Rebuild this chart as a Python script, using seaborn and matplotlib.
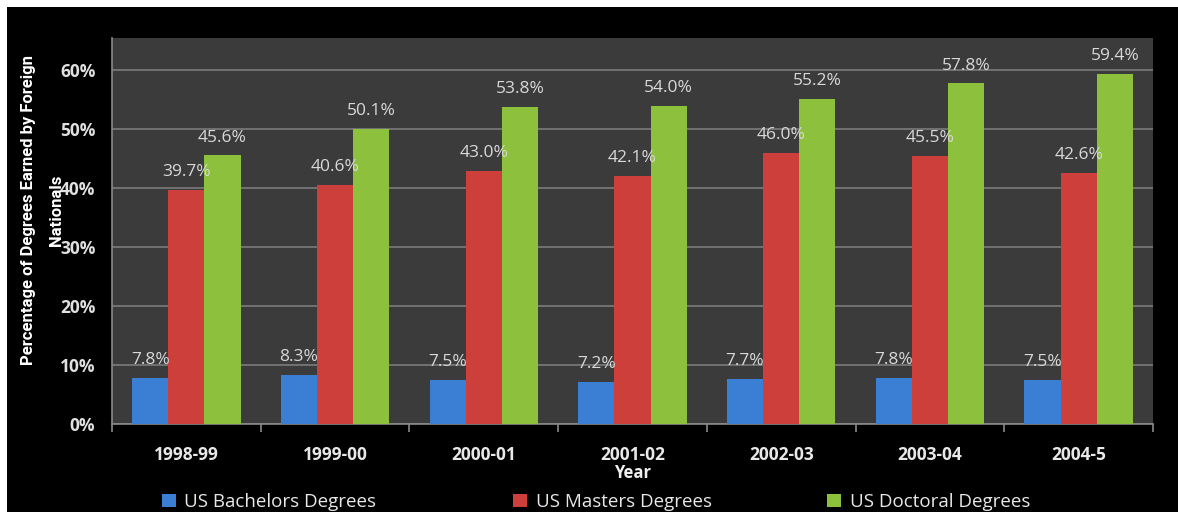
import matplotlib
matplotlib.use("Agg")
import matplotlib.pyplot as plt
import seaborn as sns
import pandas as pd
import numpy as np
from matplotlib.patches import Rectangle
from matplotlib.ticker import FixedLocator

years = ["1998-99", "1999-00", "2000-01", "2001-02", "2002-03", "2003-04", "2004-5"]
bachelors = [7.8, 8.3, 7.5, 7.2, 7.7, 7.8, 7.5]
masters = [39.7, 40.6, 43.0, 42.1, 46.0, 45.5, 42.6]
doctoral = [45.6, 50.1, 53.8, 54.0, 55.2, 57.8, 59.4]
series_names = ["US Bachelors Degrees", "US Masters Degrees", "US Doctoral Degrees"]
colors = ["#3b7fd4", "#cc3f3b", "#8dc03c"]

rows = []
for name, vals in zip(series_names, [bachelors, masters, doctoral]):
    for y, v in zip(years, vals):
        rows.append({"Year": y, "Value": v, "Series": name})
df = pd.DataFrame(rows)

sns.set_theme(style="dark")
plt.rcParams['font.family'] = ['Open Sans', 'DejaVu Sans']

W, H = 1178, 512
fig = plt.figure(figsize=(W / 100, H / 100), dpi=100)
fig.patch.set_facecolor("white")
fig.patches.append(Rectangle((7/W, 0), 1, 1 - 7/H, transform=fig.transFigure,
                             facecolor="black", edgecolor="none", zorder=-10))

ax = fig.add_axes([112/W, 1 - 424/H, (1153 - 112)/W, (424 - 38)/H])
ax.set_facecolor("#3b3b3b")

sns.barplot(data=df, x="Year", y="Value", hue="Series", palette=colors,
            width=0.73, saturation=1, ax=ax, edgecolor="none", zorder=3)

for cont in ax.containers:
    labels = [f"{b.get_height():.1f}%" for b in cont]
    ax.bar_label(cont, labels=labels, padding=7, color="#d9d9d9",
                 fontsize=12.5, zorder=5)

ax.set_ylim(0, 65.5)
ax.set_xlim(-0.5, 6.5)
ax.set_yticks([0, 10, 20, 30, 40, 50, 60])
ax.set_yticklabels([f"{v}%" for v in [0, 10, 20, 30, 40, 50, 60]],
                   color="#e0e0e0", fontsize=12.5, fontweight="bold")
ax.yaxis.grid(True, color="#767676", linewidth=1.3, zorder=0)
ax.xaxis.grid(False)
ax.tick_params(axis="y", length=6, color="#8a8a8a", width=1.2, pad=6)
ax.tick_params(axis="x", length=0, pad=16)
ax.xaxis.set_minor_locator(FixedLocator([i + 0.5 for i in range(-1, 7)]))
ax.tick_params(axis="x", which="minor", length=6, color="#8a8a8a", width=1.2, bottom=True)
for lbl in ax.get_xticklabels():
    lbl.set_color("#e8e8e8")
    lbl.set_fontweight("bold")
    lbl.set_fontsize(12.5)

for s in ["top", "right"]:
    ax.spines[s].set_visible(False)
for s in ["left", "bottom"]:
    ax.spines[s].set_color("#8a8a8a")
    ax.spines[s].set_linewidth(1.2)

ax.set_xlabel("Year", color="#f0f0f0", fontsize=12, fontweight="bold", labelpad=0)
ax.set_ylabel("")
ylab_font = dict(rotation=90, ha="center", va="center", color="white", fontsize=12,
                 fontweight="bold", family=["Roboto", "DejaVu Sans"])
fig.text(29/W, 1 - 210/H, "Percentage of Degrees Earned by Foreign", **ylab_font)
fig.text(56/W, 1 - 210/H, "Nationals", **ylab_font)

handles, labels = ax.get_legend_handles_labels()
ax.get_legend().remove()
for h, l, xm in zip(handles, labels, [162, 513, 827]):
    leg = fig.legend([h], [l], loc="center left", bbox_to_anchor=(xm / W, 1 - 502 / H),
                     frameon=False, fontsize=13.5, handlelength=0.75, handleheight=0.75,
                     handletextpad=0.45, borderpad=0, borderaxespad=0)
    for t in leg.get_texts():
        t.set_color("#e8e8e8")

fig.savefig("out.png", dpi=100, facecolor=fig.get_facecolor())
